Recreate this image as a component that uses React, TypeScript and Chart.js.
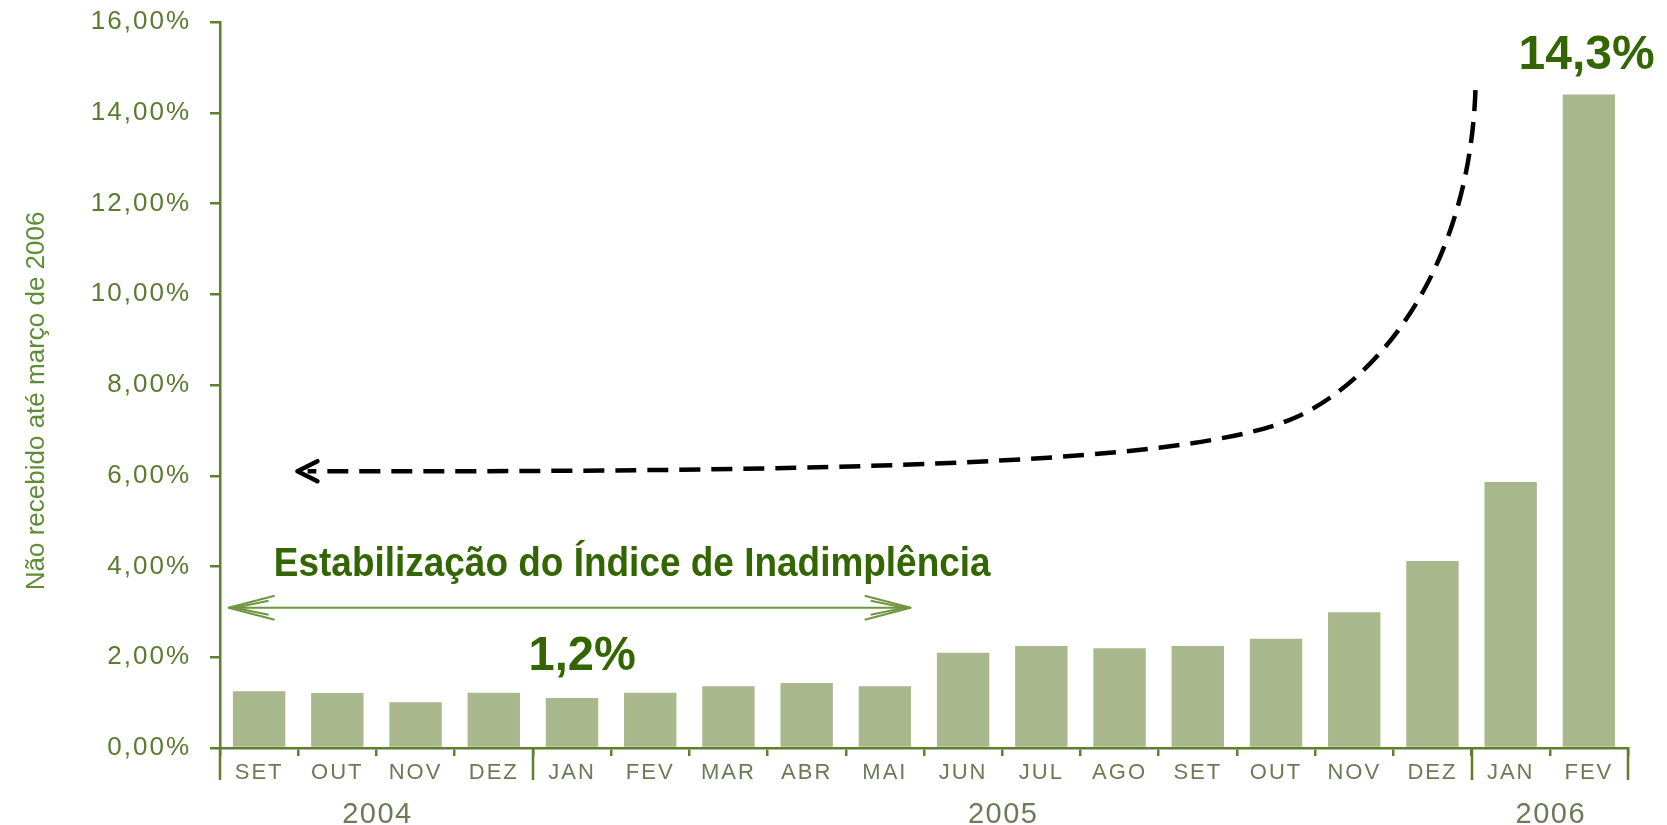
import { useEffect, useRef } from 'react';
import { Chart, registerables } from 'chart.js';

Chart.register(...registerables);

// ---- data ----
const months = ['SET', 'OUT', 'NOV', 'DEZ', 'JAN', 'FEV', 'MAR', 'ABR', 'MAI', 'JUN', 'JUL', 'AGO', 'SET', 'OUT', 'NOV', 'DEZ', 'JAN', 'FEV'];
const values = [1.25, 1.21, 1.01, 1.22, 1.1, 1.22, 1.36, 1.43, 1.36, 2.1, 2.25, 2.2, 2.25, 2.41, 2.99, 4.12, 5.86, 14.4];
const yearLabels = ['2004', '2005', '2006'];
const yearFirst = [0, 4, 16];
const yearLast = [3, 15, 17];
const yMin = 0;
const yMax = 16;
const yStep = 2;
const yTitle = 'Não recebido até março de 2006';
const bandTitle = 'Estabilização do Índice de Inadimplência';
const bandValue = '1,2%';
const peakValue = '14,3%';

// annotation anchors in data units (category index, percent)
const curvePts = [[15.55, 14.5], [15.47, 10.63], [14.35, 8.17], [13.27, 7.3], [11.96, 6.25], [7.56, 6.08], [0.62, 6.1]];
const curveTip = [0.49, 6.1];
const bandArrow = [[-0.39, 3.09], [8.33, 3.09]];
const bandTitleAt = [4.77, 3.78];
const bandValueAt = [4.13, 1.73];
const peakValueAt = [16.97, 14.97];
const yTitleAt = 7.65;

const AXIS = '#5f7f2c';
const TICK_TXT = '#5a7b30';
const MONTH_TXT = '#6b7b55';
const TITLE_TXT = '#5f8c36';
const DARK = '#336600';
const BAR = '#a8b78c';
const FONT = '"Liberation Sans", Arial, sans-serif';

const overlay = {
  id: 'overlay',
  beforeDraw(chart: any) {
    chart.ctx.letterSpacing = '0px';
  },
  afterDatasetsDraw(chart: any) {
    chart.ctx.letterSpacing = '2px';
  },
  afterDraw(chart: any) {
    const ctx = chart.ctx;
    const xs = chart.scales.x;
    const ys = chart.scales.y;
    const P = (p: number[]) => [xs.getPixelForValue(p[0]), ys.getPixelForValue(p[1])];
    const bottom = chart.chartArea.bottom;
    const left = chart.chartArea.left;
    ctx.save();

    // group separators
    ctx.strokeStyle = AXIS;
    ctx.lineWidth = 2.5;
    const seps = [yearFirst[0] - 0.5, ...yearLast.map((v) => v + 0.5)];
    seps.forEach((s) => {
      const x = Math.round(xs.getPixelForValue(s));
      ctx.beginPath();
      ctx.moveTo(x, bottom);
      ctx.lineTo(x, bottom + 32);
      ctx.stroke();
    });

    // year labels
    ctx.letterSpacing = '1.5px';
    ctx.font = `29px ${FONT}`;
    ctx.fillStyle = MONTH_TXT;
    ctx.textAlign = 'center';
    ctx.textBaseline = 'alphabetic';
    yearLabels.forEach((lab, i) => {
      const x = (xs.getPixelForValue(yearFirst[i]) + xs.getPixelForValue(yearLast[i])) / 2;
      ctx.fillText(lab, x + 1, bottom + 75);
    });
    ctx.letterSpacing = '0px';

    // y axis title
    ctx.save();
    ctx.translate(left - 183, ys.getPixelForValue(yTitleAt));
    ctx.rotate(-Math.PI / 2);
    ctx.font = `26px ${FONT}`;
    ctx.fillStyle = TITLE_TXT;
    ctx.textAlign = 'center';
    ctx.textBaseline = 'middle';
    ctx.fillText(yTitle, 0, 0);
    ctx.restore();

    // dashed curved arrow
    const c = curvePts.map(P);
    ctx.strokeStyle = '#000';
    ctx.lineWidth = 4.5;
    ctx.setLineDash([21, 11]);
    ctx.beginPath();
    ctx.moveTo(c[0][0], c[0][1]);
    ctx.bezierCurveTo(c[1][0], c[1][1], c[2][0], c[2][1], c[3][0], c[3][1]);
    ctx.bezierCurveTo(c[4][0], c[4][1], c[5][0], c[5][1], c[6][0], c[6][1]);
    ctx.stroke();
    ctx.setLineDash([]);
    const t = P(curveTip);
    ctx.lineWidth = 4.5;
    ctx.lineCap = 'round';
    ctx.lineJoin = 'round';
    ctx.beginPath();
    ctx.moveTo(t[0] + 20, t[1] - 10);
    ctx.lineTo(t[0], t[1]);
    ctx.lineTo(t[0] + 20, t[1] + 10);
    ctx.stroke();

    // green double arrow
    const a0 = P(bandArrow[0]);
    const a1 = P(bandArrow[1]);
    ctx.strokeStyle = '#6f9540';
    ctx.lineWidth = 2;
    ctx.lineCap = 'butt';
    ctx.beginPath();
    ctx.moveTo(a0[0], a0[1]);
    ctx.lineTo(a1[0], a1[1]);
    ctx.stroke();
    const head = (x: number, y: number, dir: number) => {
      ctx.beginPath();
      ctx.moveTo(x + dir * 46, y - 12);
      ctx.lineTo(x, y);
      ctx.lineTo(x + dir * 46, y + 12);
      ctx.stroke();
      ctx.beginPath();
      ctx.moveTo(x + dir * 40, y - 7);
      ctx.lineTo(x + dir * 6, y);
      ctx.lineTo(x + dir * 40, y + 7);
      ctx.stroke();
    };
    head(a0[0], a0[1], 1);
    head(a1[0], a1[1], -1);

    // texts
    const txt = (s: string, p: number[], size: number, sx: number) => {
      const q = P(p);
      ctx.save();
      ctx.translate(q[0], q[1]);
      ctx.scale(sx, 1);
      ctx.font = `bold ${size}px ${FONT}`;
      ctx.fillStyle = DARK;
      ctx.textAlign = 'center';
      ctx.textBaseline = 'alphabetic';
      ctx.fillText(s, 0, 0);
      ctx.restore();
    };
    txt(bandTitle, bandTitleAt, 40, 0.924);
    txt(bandValue, bandValueAt, 48, 0.98);
    txt(peakValue, peakValueAt, 48, 1);

    ctx.restore();
  },
};

export default function App() {
  const ref = useRef<HTMLCanvasElement | null>(null);
  useEffect(() => {
    if (!ref.current) return;
    const chart = new Chart(ref.current, {
      type: 'bar',
      data: {
        labels: months,
        datasets: [
          {
            data: values,
            backgroundColor: BAR,
            borderWidth: 0,
            barPercentage: 0.67,
            categoryPercentage: 1,
          },
        ],
      },
      options: {
        animation: false,
        responsive: false,
        devicePixelRatio: 1,
        layout: { padding: { top: 22, right: 39, left: 0, bottom: 0 } },
        plugins: { legend: { display: false }, tooltip: { enabled: false } },
        scales: {
          x: {
            offset: true,
            grid: { display: true, offset: true, drawOnChartArea: false, drawTicks: true, tickLength: 8, color: AXIS, lineWidth: 2.5 },
            border: { display: true, color: AXIS, width: 2.5, z: 1 },
            ticks: {
              z: 1,
              color: MONTH_TXT,
              font: { family: FONT, size: 22 },
              padding: 4,
              maxRotation: 0,
              minRotation: 0,
              autoSkip: false,
            },
            afterFit: (s: any) => {
              s.height = 77;
              s.paddingLeft = 0;
              s.paddingRight = 0;
            },
          },
          y: {
            min: yMin,
            max: yMax,
            grid: { display: true, drawOnChartArea: false, drawTicks: true, tickLength: 10, color: AXIS, lineWidth: 2.5 },
            border: { display: true, color: AXIS, width: 2.5, z: 1 },
            ticks: {
              z: 1,
              stepSize: yStep,
              color: TICK_TXT,
              font: { family: FONT, size: 26 },
              padding: 19,
              callback: (v: any) => Number(v).toFixed(2).replace('.', ',') + '%',
            },
            afterFit: (s: any) => {
              s.width = 220;
              s.paddingTop = 0;
              s.paddingBottom = 0;
            },
          },
        },
      },
      plugins: [overlay],
    });
    return () => chart.destroy();
  }, []);
  return (
    <div style={{ position: 'fixed', left: 0, top: 0, width: 1667, height: 825, background: '#fff' }}>
      <canvas ref={ref} width={1667} height={825} style={{ display: 'block', width: 1667, height: 825 }} />
    </div>
  );
}
